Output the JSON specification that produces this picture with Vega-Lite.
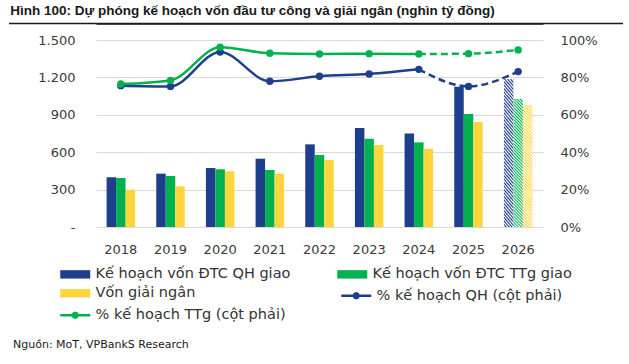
{
  "$schema": "https://vega.github.io/schema/vega-lite/v6.json",
  "background": "white",
  "padding": {"left": 8, "right": 7, "top": 4, "bottom": 0},
  "title": {"text": "Hình 100: Dự phóng kế hoạch vốn đầu tư công và giải ngân (nghìn tỷ đồng)", "anchor": "start", "font": "Liberation Sans", "fontSize": 13.5, "fontWeight": "bold", "color": "#1a1a1a", "offset": 5, "dx": 2},
  "spacing": 5,
  "datasets": {
    "bars": [
      {"year": 2018, "series": "Kế hoạch vốn ĐTC QH giao", "value": 399},
      {"year": 2018, "series": "Kế hoạch vốn ĐTC TTg giao", "value": 393},
      {"year": 2018, "series": "Vốn giải ngân", "value": 299},
      {"year": 2019, "series": "Kế hoạch vốn ĐTC QH giao", "value": 428},
      {"year": 2019, "series": "Kế hoạch vốn ĐTC TTg giao", "value": 409},
      {"year": 2019, "series": "Vốn giải ngân", "value": 326},
      {"year": 2020, "series": "Kế hoạch vốn ĐTC QH giao", "value": 473},
      {"year": 2020, "series": "Kế hoạch vốn ĐTC TTg giao", "value": 463},
      {"year": 2020, "series": "Vốn giải ngân", "value": 447},
      {"year": 2021, "series": "Kế hoạch vốn ĐTC QH giao", "value": 548},
      {"year": 2021, "series": "Kế hoạch vốn ĐTC TTg giao", "value": 457},
      {"year": 2021, "series": "Vốn giải ngân", "value": 428},
      {"year": 2022, "series": "Kế hoạch vốn ĐTC QH giao", "value": 663},
      {"year": 2022, "series": "Kế hoạch vốn ĐTC TTg giao", "value": 578},
      {"year": 2022, "series": "Vốn giải ngân", "value": 537},
      {"year": 2023, "series": "Kế hoạch vốn ĐTC QH giao", "value": 794},
      {"year": 2023, "series": "Kế hoạch vốn ĐTC TTg giao", "value": 708},
      {"year": 2023, "series": "Vốn giải ngân", "value": 658},
      {"year": 2024, "series": "Kế hoạch vốn ĐTC QH giao", "value": 751},
      {"year": 2024, "series": "Kế hoạch vốn ĐTC TTg giao", "value": 679},
      {"year": 2024, "series": "Vốn giải ngân", "value": 628},
      {"year": 2025, "series": "Kế hoạch vốn ĐTC QH giao", "value": 1125},
      {"year": 2025, "series": "Kế hoạch vốn ĐTC TTg giao", "value": 906},
      {"year": 2025, "series": "Vốn giải ngân", "value": 842},
      {"year": 2026, "series": "Kế hoạch vốn ĐTC QH giao", "value": 1187},
      {"year": 2026, "series": "Kế hoạch vốn ĐTC TTg giao", "value": 1027},
      {"year": 2026, "series": "Vốn giải ngân", "value": 979}
    ],
    "lines": [
      {"year": 2018, "series": "% kế hoạch QH (cột phải)", "value": 0.756},
      {"year": 2019, "series": "% kế hoạch QH (cột phải)", "value": 0.752},
      {"year": 2020, "series": "% kế hoạch QH (cột phải)", "value": 0.936},
      {"year": 2021, "series": "% kế hoạch QH (cột phải)", "value": 0.779},
      {"year": 2022, "series": "% kế hoạch QH (cột phải)", "value": 0.806},
      {"year": 2023, "series": "% kế hoạch QH (cột phải)", "value": 0.818},
      {"year": 2024, "series": "% kế hoạch QH (cột phải)", "value": 0.843},
      {"year": 2025, "series": "% kế hoạch QH (cột phải)", "value": 0.752},
      {"year": 2026, "series": "% kế hoạch QH (cột phải)", "value": 0.831},
      {"year": 2018, "series": "% kế hoạch TTg (cột phải)", "value": 0.765},
      {"year": 2019, "series": "% kế hoạch TTg (cột phải)", "value": 0.784},
      {"year": 2020, "series": "% kế hoạch TTg (cột phải)", "value": 0.961},
      {"year": 2021, "series": "% kế hoạch TTg (cột phải)", "value": 0.929},
      {"year": 2022, "series": "% kế hoạch TTg (cột phải)", "value": 0.925},
      {"year": 2023, "series": "% kế hoạch TTg (cột phải)", "value": 0.927},
      {"year": 2024, "series": "% kế hoạch TTg (cột phải)", "value": 0.925},
      {"year": 2025, "series": "% kế hoạch TTg (cột phải)", "value": 0.927},
      {"year": 2026, "series": "% kế hoạch TTg (cột phải)", "value": 0.947}
    ]
  },
  "vconcat": [
    {
      "width": 447,
      "height": 187,
      "layer": [
        {
          "data": {"name": "bars"},
          "encoding": {
            "x": {"field": "year", "type": "ordinal", "scale": {"paddingInner": 0.426, "paddingOuter": 0.213}, "axis": {"title": null, "labelAngle": 0, "ticks": false, "domain": false, "grid": false, "labelPadding": 16}},
            "y": {"field": "value", "type": "quantitative", "scale": {"domain": [0, 1500]}, "axis": {"title": null, "values": [0, 300, 600, 900, 1200, 1500], "labelExpr": "datum.value == 0 ? '-' : replace(format(datum.value, ','), ',', '.')", "grid": true, "gridColor": "#d9d9d9", "gridWidth": 1, "labelPadding": 21, "minExtent": 87, "ticks": false, "domain": false}},
            "xOffset": {"field": "series", "type": "nominal", "scale": {"domain": ["Kế hoạch vốn ĐTC QH giao", "Kế hoạch vốn ĐTC TTg giao", "Vốn giải ngân"], "paddingInner": 0, "paddingOuter": 0}}
          },
          "layer": [
            {
              "transform": [{"filter": "datum.year < 2026"}],
              "mark": {"type": "bar"},
              "encoding": {
                "fill": {
                  "field": "series", "type": "nominal",
                  "scale": {"domain": ["Kế hoạch vốn ĐTC QH giao", "Vốn giải ngân", "Kế hoạch vốn ĐTC TTg giao"], "range": ["#1E3F8B", "#FFD53F", "#00B24F"]},
                  "legend": {"title": null, "orient": "none", "legendX": -38, "legendY": 227, "columns": 2, "symbolType": "M-1,-0.84H5V0.84H-1Z", "symbolStrokeWidth": 0}
                }
              }
            },
            {
              "transform": [{"filter": "datum.year == 2026 && datum.series == 'Kế hoạch vốn ĐTC QH giao'"}],
              "mark": {"type": "bar", "fill": {"gradient": "linear", "x1": 1, "y1": 0, "x2": 0, "y2": 13, "stops": [{"offset":0,"color":"#1E3F8B"},{"offset":0.0009,"color":"#fff"},{"offset":0.0018,"color":"#1E3F8B"},{"offset":0.0027,"color":"#fff"},{"offset":0.0036,"color":"#1E3F8B"},{"offset":0.0045,"color":"#fff"},{"offset":0.0054,"color":"#1E3F8B"},{"offset":0.0063,"color":"#fff"},{"offset":0.0072,"color":"#1E3F8B"},{"offset":0.0081,"color":"#fff"},{"offset":0.009,"color":"#1E3F8B"},{"offset":0.0099,"color":"#fff"},{"offset":0.0108,"color":"#1E3F8B"},{"offset":0.0117,"color":"#fff"},{"offset":0.0126,"color":"#1E3F8B"},{"offset":0.0135,"color":"#fff"},{"offset":0.0144,"color":"#1E3F8B"},{"offset":0.0153,"color":"#fff"},{"offset":0.0162,"color":"#1E3F8B"},{"offset":0.0171,"color":"#fff"},{"offset":0.018,"color":"#1E3F8B"},{"offset":0.0189,"color":"#fff"},{"offset":0.0198,"color":"#1E3F8B"},{"offset":0.0207,"color":"#fff"},{"offset":0.0216,"color":"#1E3F8B"},{"offset":0.0225,"color":"#fff"},{"offset":0.0234,"color":"#1E3F8B"},{"offset":0.0243,"color":"#fff"},{"offset":0.0252,"color":"#1E3F8B"},{"offset":0.0261,"color":"#fff"},{"offset":0.027,"color":"#1E3F8B"},{"offset":0.0279,"color":"#fff"},{"offset":0.0288,"color":"#1E3F8B"},{"offset":0.0297,"color":"#fff"},{"offset":0.0306,"color":"#1E3F8B"},{"offset":0.0315,"color":"#fff"},{"offset":0.0324,"color":"#1E3F8B"},{"offset":0.0333,"color":"#fff"},{"offset":0.0342,"color":"#1E3F8B"},{"offset":0.0351,"color":"#fff"},{"offset":0.036,"color":"#1E3F8B"},{"offset":0.0369,"color":"#fff"},{"offset":0.0378,"color":"#1E3F8B"},{"offset":0.0387,"color":"#fff"},{"offset":0.0396,"color":"#1E3F8B"},{"offset":0.0405,"color":"#fff"},{"offset":0.0414,"color":"#1E3F8B"},{"offset":0.0423,"color":"#fff"},{"offset":0.0432,"color":"#1E3F8B"},{"offset":0.0441,"color":"#fff"},{"offset":0.045,"color":"#1E3F8B"},{"offset":0.0459,"color":"#fff"},{"offset":0.0468,"color":"#1E3F8B"},{"offset":0.0477,"color":"#fff"},{"offset":0.0486,"color":"#1E3F8B"},{"offset":0.0495,"color":"#fff"},{"offset":0.0504,"color":"#1E3F8B"},{"offset":0.0513,"color":"#fff"},{"offset":0.0522,"color":"#1E3F8B"},{"offset":0.0531,"color":"#fff"},{"offset":0.054,"color":"#1E3F8B"},{"offset":0.0549,"color":"#fff"},{"offset":0.0558,"color":"#1E3F8B"},{"offset":0.0567,"color":"#fff"},{"offset":0.0576,"color":"#1E3F8B"},{"offset":0.0585,"color":"#fff"},{"offset":0.0594,"color":"#1E3F8B"},{"offset":0.0603,"color":"#fff"},{"offset":0.0612,"color":"#1E3F8B"},{"offset":0.0621,"color":"#fff"},{"offset":0.063,"color":"#1E3F8B"},{"offset":0.0639,"color":"#fff"},{"offset":0.0648,"color":"#1E3F8B"},{"offset":0.0657,"color":"#fff"},{"offset":0.0666,"color":"#1E3F8B"},{"offset":0.0675,"color":"#fff"},{"offset":0.0684,"color":"#1E3F8B"},{"offset":0.0693,"color":"#fff"},{"offset":0.0702,"color":"#1E3F8B"},{"offset":0.0711,"color":"#fff"},{"offset":0.072,"color":"#1E3F8B"},{"offset":0.0729,"color":"#fff"},{"offset":0.0738,"color":"#1E3F8B"},{"offset":0.0747,"color":"#fff"},{"offset":0.0756,"color":"#1E3F8B"},{"offset":0.0765,"color":"#fff"},{"offset":0.0774,"color":"#1E3F8B"},{"offset":0.0783,"color":"#fff"},{"offset":0.0792,"color":"#1E3F8B"},{"offset":0.0801,"color":"#fff"},{"offset":0.081,"color":"#1E3F8B"},{"offset":0.0819,"color":"#fff"},{"offset":0.0828,"color":"#1E3F8B"}]}}
            },
            {
              "transform": [{"filter": "datum.year == 2026 && datum.series == 'Kế hoạch vốn ĐTC TTg giao'"}],
              "mark": {"type": "bar", "fill": {"gradient": "linear", "x1": 1, "y1": 0, "x2": 0, "y2": 13, "stops": [{"offset":0,"color":"#00B24F"},{"offset":0.0009,"color":"#fff"},{"offset":0.0018,"color":"#00B24F"},{"offset":0.0027,"color":"#fff"},{"offset":0.0036,"color":"#00B24F"},{"offset":0.0045,"color":"#fff"},{"offset":0.0054,"color":"#00B24F"},{"offset":0.0063,"color":"#fff"},{"offset":0.0072,"color":"#00B24F"},{"offset":0.0081,"color":"#fff"},{"offset":0.009,"color":"#00B24F"},{"offset":0.0099,"color":"#fff"},{"offset":0.0108,"color":"#00B24F"},{"offset":0.0117,"color":"#fff"},{"offset":0.0126,"color":"#00B24F"},{"offset":0.0135,"color":"#fff"},{"offset":0.0144,"color":"#00B24F"},{"offset":0.0153,"color":"#fff"},{"offset":0.0162,"color":"#00B24F"},{"offset":0.0171,"color":"#fff"},{"offset":0.018,"color":"#00B24F"},{"offset":0.0189,"color":"#fff"},{"offset":0.0198,"color":"#00B24F"},{"offset":0.0207,"color":"#fff"},{"offset":0.0216,"color":"#00B24F"},{"offset":0.0225,"color":"#fff"},{"offset":0.0234,"color":"#00B24F"},{"offset":0.0243,"color":"#fff"},{"offset":0.0252,"color":"#00B24F"},{"offset":0.0261,"color":"#fff"},{"offset":0.027,"color":"#00B24F"},{"offset":0.0279,"color":"#fff"},{"offset":0.0288,"color":"#00B24F"},{"offset":0.0297,"color":"#fff"},{"offset":0.0306,"color":"#00B24F"},{"offset":0.0315,"color":"#fff"},{"offset":0.0324,"color":"#00B24F"},{"offset":0.0333,"color":"#fff"},{"offset":0.0342,"color":"#00B24F"},{"offset":0.0351,"color":"#fff"},{"offset":0.036,"color":"#00B24F"},{"offset":0.0369,"color":"#fff"},{"offset":0.0378,"color":"#00B24F"},{"offset":0.0387,"color":"#fff"},{"offset":0.0396,"color":"#00B24F"},{"offset":0.0405,"color":"#fff"},{"offset":0.0414,"color":"#00B24F"},{"offset":0.0423,"color":"#fff"},{"offset":0.0432,"color":"#00B24F"},{"offset":0.0441,"color":"#fff"},{"offset":0.045,"color":"#00B24F"},{"offset":0.0459,"color":"#fff"},{"offset":0.0468,"color":"#00B24F"},{"offset":0.0477,"color":"#fff"},{"offset":0.0486,"color":"#00B24F"},{"offset":0.0495,"color":"#fff"},{"offset":0.0504,"color":"#00B24F"},{"offset":0.0513,"color":"#fff"},{"offset":0.0522,"color":"#00B24F"},{"offset":0.0531,"color":"#fff"},{"offset":0.054,"color":"#00B24F"},{"offset":0.0549,"color":"#fff"},{"offset":0.0558,"color":"#00B24F"},{"offset":0.0567,"color":"#fff"},{"offset":0.0576,"color":"#00B24F"},{"offset":0.0585,"color":"#fff"},{"offset":0.0594,"color":"#00B24F"},{"offset":0.0603,"color":"#fff"},{"offset":0.0612,"color":"#00B24F"},{"offset":0.0621,"color":"#fff"},{"offset":0.063,"color":"#00B24F"},{"offset":0.0639,"color":"#fff"},{"offset":0.0648,"color":"#00B24F"},{"offset":0.0657,"color":"#fff"},{"offset":0.0666,"color":"#00B24F"},{"offset":0.0675,"color":"#fff"},{"offset":0.0684,"color":"#00B24F"},{"offset":0.0693,"color":"#fff"},{"offset":0.0702,"color":"#00B24F"},{"offset":0.0711,"color":"#fff"},{"offset":0.072,"color":"#00B24F"},{"offset":0.0729,"color":"#fff"},{"offset":0.0738,"color":"#00B24F"},{"offset":0.0747,"color":"#fff"},{"offset":0.0756,"color":"#00B24F"},{"offset":0.0765,"color":"#fff"},{"offset":0.0774,"color":"#00B24F"},{"offset":0.0783,"color":"#fff"},{"offset":0.0792,"color":"#00B24F"},{"offset":0.0801,"color":"#fff"},{"offset":0.081,"color":"#00B24F"},{"offset":0.0819,"color":"#fff"},{"offset":0.0828,"color":"#00B24F"}]}}
            },
            {
              "transform": [{"filter": "datum.year == 2026 && datum.series == 'Vốn giải ngân'"}],
              "mark": {"type": "bar", "fill": {"gradient": "linear", "x1": 1, "y1": 0, "x2": 0, "y2": 13, "stops": [{"offset":0,"color":"#FFD53F"},{"offset":0.0009,"color":"#fff"},{"offset":0.0018,"color":"#FFD53F"},{"offset":0.0027,"color":"#fff"},{"offset":0.0036,"color":"#FFD53F"},{"offset":0.0045,"color":"#fff"},{"offset":0.0054,"color":"#FFD53F"},{"offset":0.0063,"color":"#fff"},{"offset":0.0072,"color":"#FFD53F"},{"offset":0.0081,"color":"#fff"},{"offset":0.009,"color":"#FFD53F"},{"offset":0.0099,"color":"#fff"},{"offset":0.0108,"color":"#FFD53F"},{"offset":0.0117,"color":"#fff"},{"offset":0.0126,"color":"#FFD53F"},{"offset":0.0135,"color":"#fff"},{"offset":0.0144,"color":"#FFD53F"},{"offset":0.0153,"color":"#fff"},{"offset":0.0162,"color":"#FFD53F"},{"offset":0.0171,"color":"#fff"},{"offset":0.018,"color":"#FFD53F"},{"offset":0.0189,"color":"#fff"},{"offset":0.0198,"color":"#FFD53F"},{"offset":0.0207,"color":"#fff"},{"offset":0.0216,"color":"#FFD53F"},{"offset":0.0225,"color":"#fff"},{"offset":0.0234,"color":"#FFD53F"},{"offset":0.0243,"color":"#fff"},{"offset":0.0252,"color":"#FFD53F"},{"offset":0.0261,"color":"#fff"},{"offset":0.027,"color":"#FFD53F"},{"offset":0.0279,"color":"#fff"},{"offset":0.0288,"color":"#FFD53F"},{"offset":0.0297,"color":"#fff"},{"offset":0.0306,"color":"#FFD53F"},{"offset":0.0315,"color":"#fff"},{"offset":0.0324,"color":"#FFD53F"},{"offset":0.0333,"color":"#fff"},{"offset":0.0342,"color":"#FFD53F"},{"offset":0.0351,"color":"#fff"},{"offset":0.036,"color":"#FFD53F"},{"offset":0.0369,"color":"#fff"},{"offset":0.0378,"color":"#FFD53F"},{"offset":0.0387,"color":"#fff"},{"offset":0.0396,"color":"#FFD53F"},{"offset":0.0405,"color":"#fff"},{"offset":0.0414,"color":"#FFD53F"},{"offset":0.0423,"color":"#fff"},{"offset":0.0432,"color":"#FFD53F"},{"offset":0.0441,"color":"#fff"},{"offset":0.045,"color":"#FFD53F"},{"offset":0.0459,"color":"#fff"},{"offset":0.0468,"color":"#FFD53F"},{"offset":0.0477,"color":"#fff"},{"offset":0.0486,"color":"#FFD53F"},{"offset":0.0495,"color":"#fff"},{"offset":0.0504,"color":"#FFD53F"},{"offset":0.0513,"color":"#fff"},{"offset":0.0522,"color":"#FFD53F"},{"offset":0.0531,"color":"#fff"},{"offset":0.054,"color":"#FFD53F"},{"offset":0.0549,"color":"#fff"},{"offset":0.0558,"color":"#FFD53F"},{"offset":0.0567,"color":"#fff"},{"offset":0.0576,"color":"#FFD53F"},{"offset":0.0585,"color":"#fff"},{"offset":0.0594,"color":"#FFD53F"},{"offset":0.0603,"color":"#fff"},{"offset":0.0612,"color":"#FFD53F"},{"offset":0.0621,"color":"#fff"},{"offset":0.063,"color":"#FFD53F"},{"offset":0.0639,"color":"#fff"},{"offset":0.0648,"color":"#FFD53F"},{"offset":0.0657,"color":"#fff"},{"offset":0.0666,"color":"#FFD53F"},{"offset":0.0675,"color":"#fff"},{"offset":0.0684,"color":"#FFD53F"},{"offset":0.0693,"color":"#fff"},{"offset":0.0702,"color":"#FFD53F"},{"offset":0.0711,"color":"#fff"},{"offset":0.072,"color":"#FFD53F"},{"offset":0.0729,"color":"#fff"},{"offset":0.0738,"color":"#FFD53F"},{"offset":0.0747,"color":"#fff"},{"offset":0.0756,"color":"#FFD53F"},{"offset":0.0765,"color":"#fff"},{"offset":0.0774,"color":"#FFD53F"},{"offset":0.0783,"color":"#fff"},{"offset":0.0792,"color":"#FFD53F"},{"offset":0.0801,"color":"#fff"},{"offset":0.081,"color":"#FFD53F"},{"offset":0.0819,"color":"#fff"},{"offset":0.0828,"color":"#FFD53F"}]}}
            }
          ]
        },
        {
          "data": {"name": "lines"},
          "encoding": {
            "x": {"field": "year", "type": "ordinal", "scale": {"paddingInner": 0.426, "paddingOuter": 0.213}, "axis": {"orient": "top", "title": null, "labels": false, "ticks": false, "grid": false, "domain": true, "domainColor": "#1a1a1a", "domainWidth": 1.5, "offset": 16.5}},
            "y": {"field": "value", "type": "quantitative", "scale": {"domain": [0, 1]}, "axis": {"orient": "right", "title": null, "values": [0, 0.2, 0.4, 0.6, 0.8, 1], "format": ".0%", "grid": false, "labelPadding": 17, "ticks": false, "domain": false}}
          },
          "layer": [
            {
              "transform": [{"filter": "datum.year <= 2024"}],
              "mark": {"type": "line", "strokeWidth": 2.5, "interpolate": "monotone"},
              "encoding": {
                "stroke": {
                  "field": "series", "type": "nominal",
                  "scale": {"domain": ["% kế hoạch TTg (cột phải)", "% kế hoạch QH (cột phải)"], "range": ["#00B24F", "#1E3F8B"]},
                  "legend": {"title": null, "orient": "none", "legendX": 243, "legendY": 248.5, "values": ["% kế hoạch QH (cột phải)"], "symbolType": "M-1,0H5M2.48,0L2.34,0.34L2,0.48L1.66,0.34L1.52,0L1.66,-0.34L2,-0.48L2.34,-0.34Z", "symbolFillColor": "#1E3F8B", "symbolStrokeColor": "#1E3F8B", "symbolStrokeWidth": 2.5}
                }
              }
            },
            {
              "transform": [{"filter": "datum.year >= 2024 && datum.series == '% kế hoạch QH (cột phải)'"}],
              "mark": {"type": "line", "strokeWidth": 2.5, "interpolate": "monotone", "strokeDash": [7, 4], "color": "#1E3F8B"}
            },
            {
              "transform": [{"filter": "datum.year >= 2024 && datum.series == '% kế hoạch TTg (cột phải)'"}],
              "mark": {"type": "line", "strokeWidth": 2.5, "interpolate": "monotone", "strokeDash": [7, 4], "color": "#00B24F"}
            },
            {
              "mark": {"type": "point", "filled": true, "size": 55, "opacity": 1},
              "encoding": {
                "color": {
                  "field": "series", "type": "nominal",
                  "scale": {"domain": ["% kế hoạch QH (cột phải)", "% kế hoạch TTg (cột phải)"], "range": ["#1E3F8B", "#00B24F"]},
                  "legend": {"title": null, "orient": "none", "legendX": -38, "legendY": 268, "values": ["% kế hoạch TTg (cột phải)"], "symbolType": "M-1,0H5M2.48,0L2.34,0.34L2,0.48L1.66,0.34L1.52,0L1.66,-0.34L2,-0.48L2.34,-0.34Z", "symbolFillColor": "#00B24F", "symbolStrokeColor": "#00B24F", "symbolStrokeWidth": 2.5}
                }
              }
            }
          ]
        },
        {
          "data": {"values": [{"a": 1}]},
          "mark": {"type": "rule", "color": "#1a1a1a", "strokeWidth": 1.5},
          "encoding": {
            "x": {"datum": -0.1946, "type": "quantitative", "scale": {"domain": [0, 1]}, "axis": null},
            "x2": {"datum": 1.179},
            "y": {"datum": 1.088, "type": "quantitative", "scale": {"domain": [0, 1]}, "axis": null}
          }
        }
      ],
      "resolve": {"scale": {"x": "independent", "y": "independent"}}
    },
    {
      "width": 447,
      "height": 74,
      "data": {"values": [{"k": 0}]},
      "mark": {"type": "point", "opacity": 0},
      "encoding": {},
      "title": {"text": "Nguồn: MoT, VPBankS Research", "orient": "bottom", "anchor": "start", "dx": -83, "offset": 4, "font": "DejaVu Sans", "fontSize": 11, "fontWeight": "normal", "color": "#1a1a1a"}
    }
  ],
  "config": {
    "view": {"stroke": null},
    "font": "DejaVu Sans",
    "axis": {"labelFont": "DejaVu Sans", "labelFontSize": 13, "labelColor": "#3a3a3a"},
    "legend": {"labelFont": "DejaVu Sans", "labelFontSize": 14.5, "labelColor": "#333333", "labelLimit": 400, "symbolSize": 100, "labelOffset": 23, "rowPadding": 4, "columnPadding": 44, "padding": 0, "symbolOpacity": 1}
  }
}
